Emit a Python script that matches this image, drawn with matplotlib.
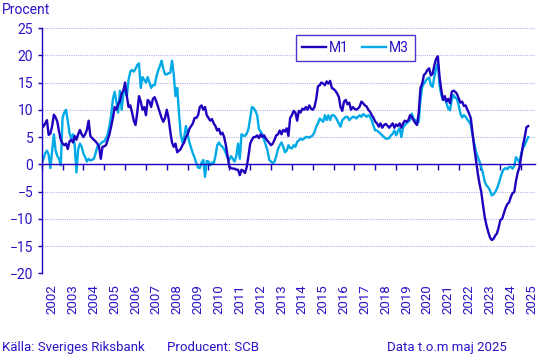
import matplotlib
matplotlib.use("Agg")
import matplotlib.pyplot as plt
import numpy as np

plt.rcParams['font.family'] = ['Roboto', 'DejaVu Sans']

start_year = 2002
years = list(range(2002, 2026))
year_labels = [str(y) for y in years]

m1 = [
    7.5, 6.9, 7.5, 8.1, 5.4, 5.6, 7.0, 9.1, 8.6, 7.8, 6.0, 4.5,      # 2002
    3.8, 3.5, 3.8, 2.8, 4.2, 4.5, 4.0, 5.2, 4.5, 5.5, 6.3, 5.5,      # 2003
    5.0, 5.5, 6.3, 8.0, 5.2, 4.8, 4.5, 4.2, 3.8, 3.2, 1.0, 3.2,      # 2004
    3.3, 3.5, 4.5, 5.5, 7.0, 8.5, 10.5, 10.0, 11.0, 11.5, 13.0, 13.5,  # 2005
    15.0, 12.5, 10.5, 10.8, 9.5, 8.0, 7.2, 9.5, 12.5, 11.5, 10.0, 10.5,  # 2006
    9.0, 11.8, 11.5, 10.5, 12.0, 12.3, 11.5, 10.5, 9.5, 8.5, 7.8, 8.5,   # 2007
    10.0, 8.5, 6.0, 4.0, 3.2, 3.8, 2.2, 2.5, 2.8, 3.5, 4.0, 5.0,     # 2008
    5.5, 6.5, 7.0, 7.5, 8.5, 8.5, 9.0, 10.5, 10.8, 10.0, 10.5, 9.0,  # 2009
    8.5, 8.0, 8.3, 7.5, 7.0, 6.2, 6.5, 5.5, 5.8, 5.0, 3.5, 1.5,      # 2010
    -0.5, -0.7, -0.8, -0.8, -1.0, -1.0, -2.0, -1.0, -1.2, -1.6, -0.5, 1.5,  # 2011
    3.8, 4.5, 5.0, 5.0, 5.3, 4.8, 5.5, 5.0, 5.3, 4.7, 4.3, 3.9,      # 2012
    3.5, 3.8, 4.5, 5.3, 5.5, 6.2, 5.5, 6.3, 6.0, 6.6, 5.2, 8.5,      # 2013
    9.0, 9.8, 9.5, 8.0, 9.8, 9.5, 10.2, 10.0, 10.5, 10.0, 10.8, 10.2,  # 2014
    10.0, 10.5, 12.0, 14.3, 14.5, 15.0, 14.8, 14.5, 15.2, 14.8, 15.3, 14.0,  # 2015
    13.8, 13.5, 13.0, 12.4, 10.5, 9.8, 11.5, 11.8, 11.0, 11.3, 10.0, 10.5,  # 2016
    10.2, 10.0, 10.2, 10.6, 11.5, 11.2, 10.8, 10.6, 10.0, 9.6, 9.0, 8.5,    # 2017
    7.8, 7.5, 6.9, 7.5, 6.7, 7.2, 7.4, 7.1, 6.7, 7.1, 7.5, 6.7,      # 2018
    7.3, 7.0, 7.5, 6.7, 7.5, 8.0, 7.8, 8.1, 9.0, 8.7, 8.1, 7.6,      # 2019
    7.2, 9.5, 14.0, 14.8, 16.4, 16.7, 17.3, 17.6, 16.3, 16.6, 18.2, 19.3,  # 2020
    19.8, 16.0, 13.6, 11.8, 12.5, 11.5, 12.0, 11.2, 13.3, 13.5, 13.3, 12.9,  # 2021
    12.1, 11.3, 11.5, 10.7, 10.8, 10.0, 9.3, 8.4, 5.6, 2.9, 0.7, -1.7,     # 2022
    -3.6, -5.1, -7.5, -9.7, -11.2, -12.4, -13.4, -13.9, -13.7, -13.1, -12.7, -11.6,  # 2023
    -10.2, -10.0, -9.0, -8.0, -7.3, -7.0, -6.0, -5.3, -5.1, -3.0, -1.5, -0.5,  # 2024
    1.5, 3.5, 5.0, 6.8, 7.0,                                          # 2025
]

m3 = [
    0.0, 1.0, 2.0, 2.5, 1.8, -0.7, 2.5, 5.5, 2.5, 1.5, 1.0, -0.2,    # 2002
    8.5, 9.5, 10.0, 8.0, 5.7, 4.8, 5.5, 3.5, -1.5, 2.8, 3.8, 3.2,    # 2003
    2.0, 1.3, 0.5, 1.0, 0.7, 0.8, 1.0, 2.0, 3.2, 3.5, 3.8, 4.1,      # 2004
    4.2, 4.8, 5.5, 7.0, 9.0, 12.0, 13.3, 11.5, 9.5, 13.5, 10.0, 13.0,  # 2005
    13.5, 12.5, 15.5, 17.0, 17.3, 17.0, 17.5, 18.2, 18.5, 14.0, 16.0, 15.5,  # 2006
    15.0, 16.0, 15.0, 14.0, 14.5, 14.5, 16.0, 17.2, 18.0, 19.0, 17.5, 16.5,  # 2007
    16.5, 16.7, 16.8, 19.0, 16.5, 12.5, 14.0, 9.5, 5.5, 4.0, 5.0, 7.0,      # 2008
    5.5, 4.0, 3.0, 2.0, 1.2, 0.2, -0.6, -0.7, 0.3, 0.8, -2.3, 0.6,   # 2009
    0.5, -0.2, 0.3, 0.2, 1.5, 3.5, 4.0, 3.5, 3.2, 2.8, 2.0, 1.2,     # 2010
    0.8, 1.5, 1.0, 0.5, 1.5, 3.8, 1.0, 5.5, 5.3, 5.2, 5.6, 6.5,      # 2011
    8.5, 10.5, 10.3, 9.8, 9.0, 6.5, 6.0, 5.5, 4.5, 3.5, 2.5, 0.8,    # 2012
    0.5, 0.2, 0.5, 1.5, 2.8, 3.5, 4.0, 3.2, 2.2, 2.5, 3.5, 3.0,      # 2013
    2.9, 3.5, 3.2, 4.1, 4.4, 4.7, 4.5, 4.7, 5.0, 5.0, 4.9, 5.1,      # 2014
    5.3, 5.9, 6.9, 7.5, 8.4, 8.1, 7.8, 9.0, 8.1, 9.0, 8.1, 9.0,      # 2015
    9.0, 8.7, 8.1, 7.5, 6.9, 8.1, 8.4, 8.7, 8.7, 8.1, 8.4, 8.7,      # 2016
    8.7, 8.4, 8.7, 9.0, 8.7, 9.2, 9.0, 8.7, 9.0, 8.7, 8.0, 7.0,      # 2017
    6.2, 6.2, 5.9, 5.6, 5.3, 5.0, 4.7, 4.7, 4.8, 5.3, 5.6, 6.2,      # 2018
    5.3, 6.1, 6.6, 5.0, 6.7, 7.2, 7.5, 7.8, 8.1, 9.3, 8.4, 8.1,      # 2019
    7.5, 7.8, 11.8, 14.2, 14.8, 15.3, 15.7, 15.9, 14.5, 14.2, 16.1, 17.6,  # 2020
    18.5, 14.5, 12.7, 11.8, 12.0, 11.2, 10.2, 9.9, 11.8, 12.7, 12.2, 12.0,  # 2021
    10.8, 9.3, 8.6, 9.0, 8.7, 8.2, 7.8, 7.2, 5.3, 3.7, 2.3, 1.3,     # 2022
    0.5, -0.5, -1.7, -3.2, -3.9, -4.2, -4.8, -5.7, -5.5, -5.1, -4.5, -3.6,  # 2023
    -2.5, -1.5, -0.9, -0.7, -0.9, -0.5, -0.5, -0.8, -0.3, 1.3, 0.8, 0.3,   # 2024
    2.0, 3.0, 3.5, 4.3, 5.0,                                          # 2025
]

series_names = ["M1", "M3"]

DARK = "#1E00BE"
LIGHT = "#00AAE6"
TEXT = "#2A14C8"
GRID = "#B8B4E8"

x = start_year + np.arange(len(m1)) / 12.0

fig = plt.figure(figsize=(5.4, 3.6), dpi=100)
ax = fig.add_axes([41.7/540, 1-273.3/360, (535-41.7)/540, (273.3-28)/360])

ax.plot(x, m1, color=DARK, lw=1.7, label=series_names[0], zorder=3)
ax.plot(x, m3, color=LIGHT, lw=1.7, label=series_names[1], zorder=2)

ax.set_ylim(-20, 25)
ax.set_xlim(2002, 2025.66)
ax.set_yticks(np.arange(-20, 26, 5))
ax.yaxis.grid(True, color=GRID, linestyle=(0, (1, 1)), lw=0.8)
ax.set_axisbelow(True)

for s in ['top', 'right']:
    ax.spines[s].set_visible(False)
ax.spines['left'].set_color(DARK)
ax.spines['left'].set_linewidth(1.0)
ax.spines['bottom'].set_position(('data', 0))
ax.spines['bottom'].set_color(DARK)
ax.spines['bottom'].set_linewidth(1.0)
ax.spines['bottom'].set_zorder(4)

ax.set_xticks(years)
ax.set_xticklabels([])
ax.tick_params(axis='x', direction='out', length=4, color=DARK, width=1.0)
ax.tick_params(axis='y', direction='out', length=3, color=DARK, width=1.0,
               labelcolor=TEXT, labelsize=10, pad=3)

sec = ax.secondary_xaxis(0.0)
sec.set_xticks([y + 0.5 for y in years])
sec.set_xticklabels(year_labels, rotation=90, color=TEXT, fontsize=9.5)
sec.tick_params(axis='x', length=0, pad=8)
for s in sec.spines.values():
    s.set_visible(False)

leg = ax.legend(loc='upper left', bbox_to_anchor=(0.515, 0.972), ncol=2,
                frameon=True, fancybox=False, fontsize=10, handlelength=1.7,
                handletextpad=0.2, columnspacing=1.0, borderpad=0.45,
                borderaxespad=0)
leg.get_frame().set_edgecolor(DARK)
leg.get_frame().set_linewidth(1.0)
for t in leg.get_texts():
    t.set_color(TEXT)

fig.text(2/540, 1-10/360, "Procent", color=TEXT, fontsize=10, va='center', ha='left')
fig.text(2/540, 0.036, "Källa: Sveriges Riksbank", color=TEXT, fontsize=9.5, va='center', ha='left')
fig.text(167/540, 0.036, "Producent: SCB", color=TEXT, fontsize=9.5, va='center', ha='left')
fig.text(507/540, 0.036, "Data t.o.m maj 2025", color=TEXT, fontsize=9.5, va='center', ha='right')

fig.savefig("out.png", dpi=100)
